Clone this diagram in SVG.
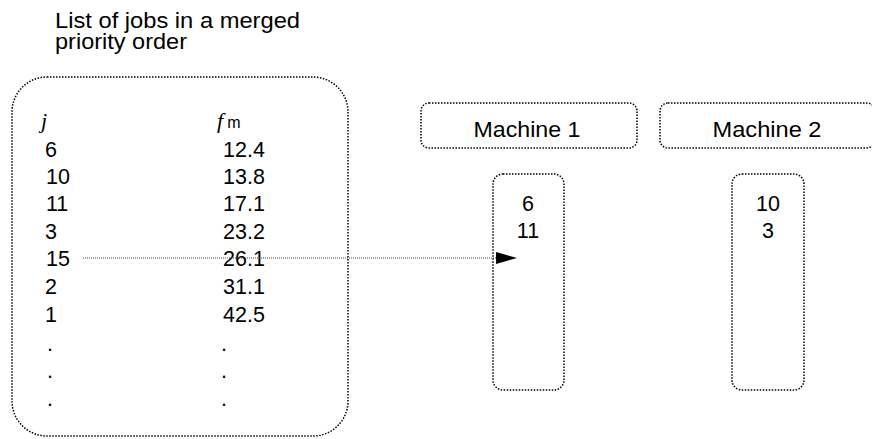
<svg xmlns="http://www.w3.org/2000/svg" width="872" height="439" viewBox="0 0 872 439">
<style>
  .box { fill: none; stroke: #000; stroke-width: 1.5; stroke-dasharray: 1.5 1.5; }
  .t { font-family: "Liberation Sans", Arial, sans-serif; font-size: 21.5px; fill: #000; }
  .c { text-anchor: middle; }
  .mi { font-family: "Liberation Serif", "DejaVu Serif", serif; font-style: italic; font-size: 22px; fill: #000; }
  .conn { fill: none; stroke: #444; stroke-width: 1; stroke-dasharray: 1 1; }
</style>
<defs>
  <marker id="ah" markerUnits="userSpaceOnUse" markerWidth="22" markerHeight="13" refX="0" refY="6" orient="auto">
    <path d="M0,0 L21,6 L0,12 Z" fill="#000"/>
  </marker>
</defs>
<rect width="872" height="439" fill="#fff"/>
<g id="title">
  <text class="t" x="55" y="28" font-size="21" textLength="245" lengthAdjust="spacingAndGlyphs">List of jobs in a merged</text>
  <text class="t" x="55" y="49" font-size="21" textLength="132" lengthAdjust="spacingAndGlyphs">priority order</text>
</g>
<g id="job-list">
  <rect class="box" x="12" y="77" width="336" height="359" rx="35" ry="35"/>
  <text class="mi" x="41" y="128">j</text>
  <text class="mi" x="217" y="128">f<tspan font-family="Liberation Sans, Arial, sans-serif" font-style="normal" font-size="16" dx="4">m</tspan></text>
  <g class="t">
    <text x="45" y="157">6</text><text x="223" y="157">12.4</text>
    <text x="46" y="184">10</text><text x="223" y="184">13.8</text>
    <text x="46" y="211">11</text><text x="223" y="211">17.1</text>
    <text x="45" y="239">3</text><text x="223" y="239">23.2</text>
    <text x="46" y="266">15</text><text x="223" y="266">26.1</text>
    <text x="45" y="294">2</text><text x="223" y="294">31.1</text>
    <text x="45" y="322">1</text><text x="223" y="322">42.5</text>
    <text x="47" y="351">.</text><text x="221" y="351">.</text>
    <text x="47" y="378">.</text><text x="221" y="378">.</text>
    <text x="47" y="406">.</text><text x="221" y="406">.</text>
  </g>
</g>
<g id="machine1">
  <rect class="box" x="421" y="103" width="216" height="45" rx="8" ry="8"/>
  <text class="t c" x="527" y="137" textLength="107" lengthAdjust="spacingAndGlyphs">Machine 1</text>
</g>
<g id="machine2">
  <rect class="box" x="660" y="103" width="215" height="45" rx="8" ry="8"/>
  <text class="t c" x="767" y="137" textLength="109" lengthAdjust="spacingAndGlyphs">Machine 2</text>
</g>
<g id="queue1">
  <rect class="box" x="493" y="174" width="71" height="216" rx="10" ry="10"/>
  <text class="t c" x="528" y="211">6</text>
  <text class="t c" x="528" y="238">11</text>
</g>
<g id="queue2">
  <rect class="box" x="732" y="174" width="72" height="216" rx="10" ry="10"/>
  <text class="t c" x="768" y="211">10</text>
  <text class="t c" x="768" y="238">3</text>
</g>
<g id="connectors">
  <path class="conn" d="M83,258 L496,258" marker-end="url(#ah)"/>
</g>
</svg>
